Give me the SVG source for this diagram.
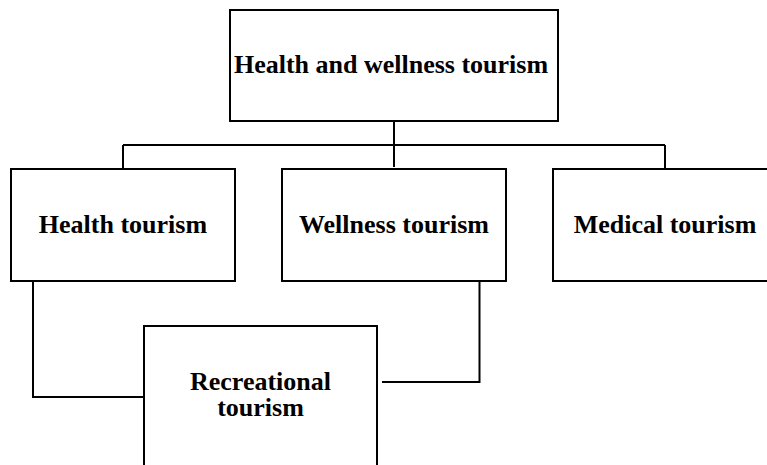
<svg xmlns="http://www.w3.org/2000/svg" width="767" height="465" viewBox="0 0 767 465">
<style>
.box{fill:#fff;stroke:#000;stroke-width:2}
.lbl{font-family:"Liberation Serif","Times New Roman",serif;font-weight:bold;font-size:26px;fill:#000;text-anchor:middle}
.conn{fill:none;stroke:#000;stroke-width:2}
</style>
<rect width="767" height="465" fill="#fff"/>
<g id="connectors">
<path class="conn" d="M394,121 V167"/>
<path class="conn" d="M123,145 H665"/>
<path class="conn" d="M123,145 V169"/>
<path class="conn" d="M665,145 V169"/>
<path class="conn" d="M33,281 V397 H144"/>
<path class="conn" d="M479.5,281 V382 H382"/>
</g>
<g id="node-top">
<rect class="box" x="230" y="10" width="328" height="111"/>
<text class="lbl" x="391" y="73">Health and wellness tourism</text>
</g>
<g id="node-health">
<rect class="box" x="11" y="169" width="224" height="112"/>
<text class="lbl" x="123" y="233">Health tourism</text>
</g>
<g id="node-wellness">
<rect class="box" x="282" y="169" width="224" height="112"/>
<text class="lbl" x="394" y="233">Wellness tourism</text>
</g>
<g id="node-medical">
<rect class="box" x="553" y="169" width="226" height="112"/>
<text class="lbl" x="665" y="233">Medical tourism</text>
</g>
<g id="node-recreational">
<rect class="box" x="144" y="326" width="233" height="160"/>
<text class="lbl" x="260.5" y="389.5">Recreational</text>
<text class="lbl" x="260.5" y="416">tourism</text>
</g>
</svg>
